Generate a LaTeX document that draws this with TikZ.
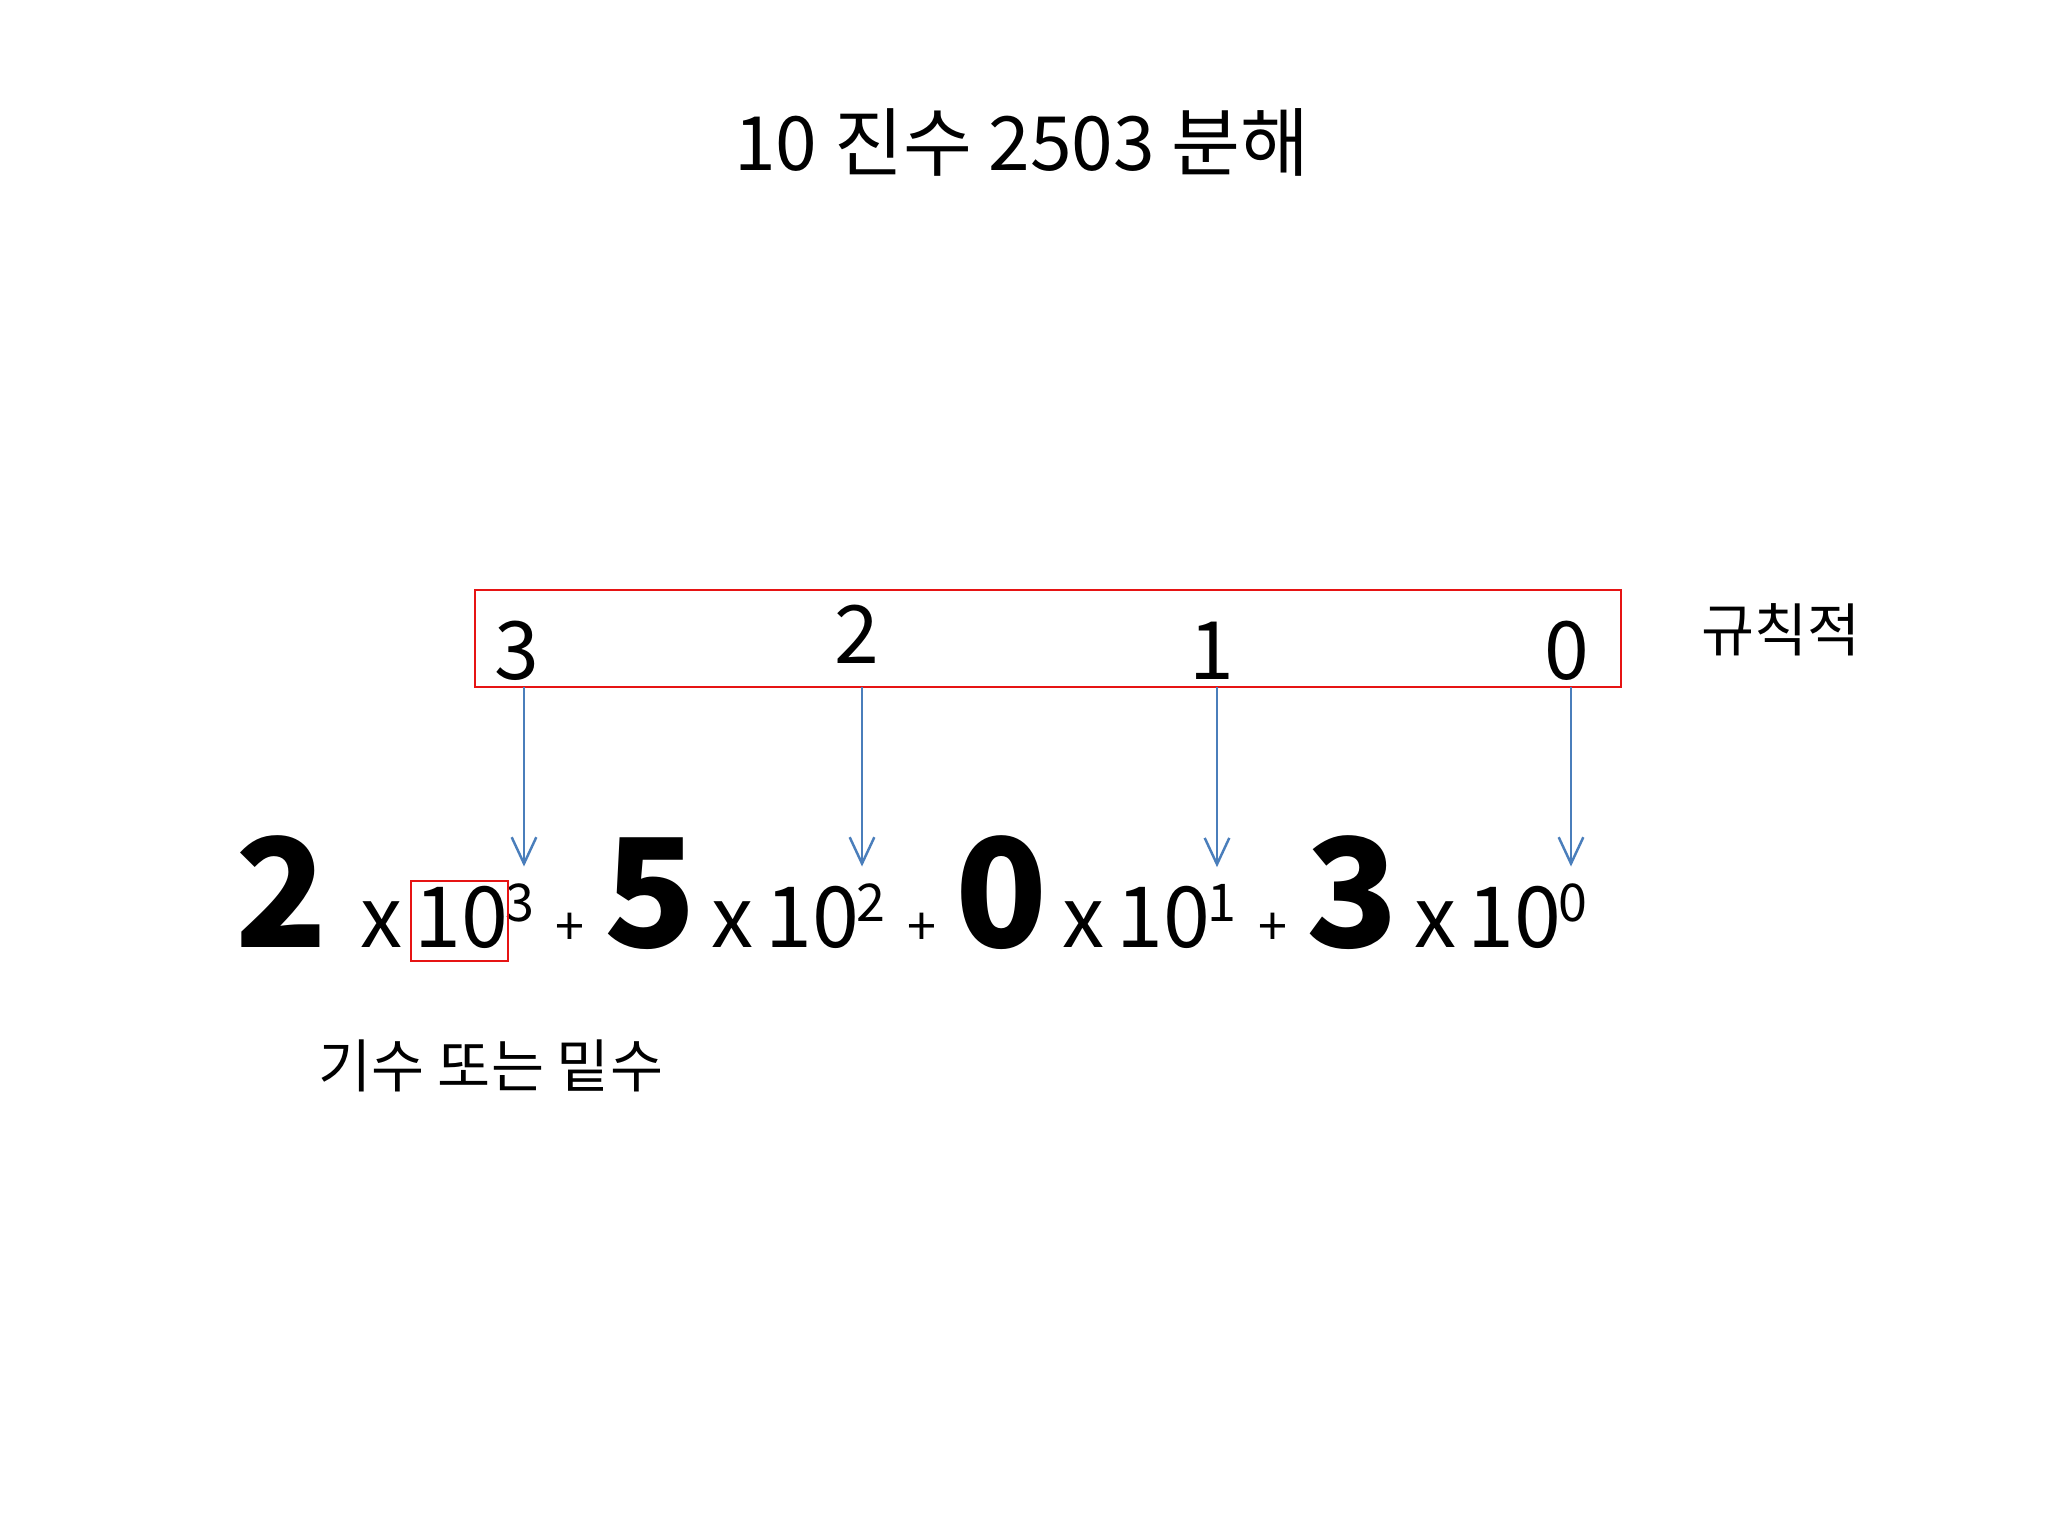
\documentclass[tikz,border=0pt]{standalone}
\usepackage{fontspec}
\setmainfont{Noto Sans CJK KR}
\usepackage{tikz}
\usetikzlibrary{positioning, calc, fit, arrows.meta}
\definecolor{arrowblue}{RGB}{74,126,187}
\definecolor{boxred}{RGB}{230,20,20}
\tikzstyle{redbox}=[draw=boxred, line width=0.6pt, inner sep=0pt]
\tikzstyle{arrow}=[-{Straight Barb[length=7.5pt,width=7pt]}, draw=arrowblue, line width=0.7pt]
\tikzstyle{big digit}=[font=\fontsize{43pt}{50pt}\selectfont\bfseries, inner sep=0pt, anchor=base]
\tikzstyle{times}=[font=\fontsize{24pt}{28pt}\selectfont, inner sep=0pt, anchor=base]
\tikzstyle{power}=[font=\fontsize{14.8pt}{17pt}\selectfont, inner sep=0pt, anchor=base]
\tikzstyle{plus}=[font=\fontsize{14.8pt}{17pt}\selectfont, inner sep=0pt]
\tikzstyle{index}=[font=\fontsize{22.9pt}{27pt}\selectfont, inner sep=0pt, anchor=base]
\tikzstyle{caption}=[font=\fontsize{16.4pt}{20pt}\selectfont, inner sep=0pt]
\tikzstyle{heading}=[font=\fontsize{21.3pt}{25pt}\selectfont, inner sep=0pt, anchor=base]

\begin{document}
\begin{tikzpicture}[x=0.01cm, y=-0.01cm]
    \useasboundingbox[fill=white] (0,0) rectangle (2048,1536);

    \node[heading] (title) at (1022,170) {10 진수 2503 분해};

    % positions
    \node[redbox, fit={(475,590) (1621,687)}] (posbox) {};
    \foreach \n/\px/\py [count=\i] in {3/517/679, 2/857/663, 1/1212/679, 0/1567/679}
    \node[index] (pos-\i) at (\px,\py) {\n};

    \node[caption] (rule) at (1781,630) {규칙적};

    % 2503 = 2 x 10^3 + ...
    \foreach \d/\e/\dx [count=\i] in {2/3/282, 5/2/651, 0/1/1002, 3/0/1353} {
    \pgfmathsetmacro\ex{520+351*(\i-1)}
    \node[big digit] (coef-\i) at (\dx,947) {\d};
    \node[times] (x-\i) at (\ex-138,947) {x};
    \node[times] (base-\i) at (\ex-59,947) {10};
    \node[power] (exp-\i) at (\ex,921) {\e};
    }

    \foreach \i in {1,2,3}
    \node[plus] (plus-\i) at (570+351.5*\i-351.5,929) {+};

    \foreach \ax [count=\i] in {524,862,1217,1571} {
    \coordinate (tail-\i) at (\ax,687);
    \draw [arrow, shorten >=0.16cm] (tail-\i) -- (tail-\i |- exp-\i.north);
    }

    \node[redbox, fit={(411,881) (508,961)}] (basebox) {};
    \node[caption] (radix) at (491,1066) {기수 또는 밑수};

\end{tikzpicture}
\end{document}
